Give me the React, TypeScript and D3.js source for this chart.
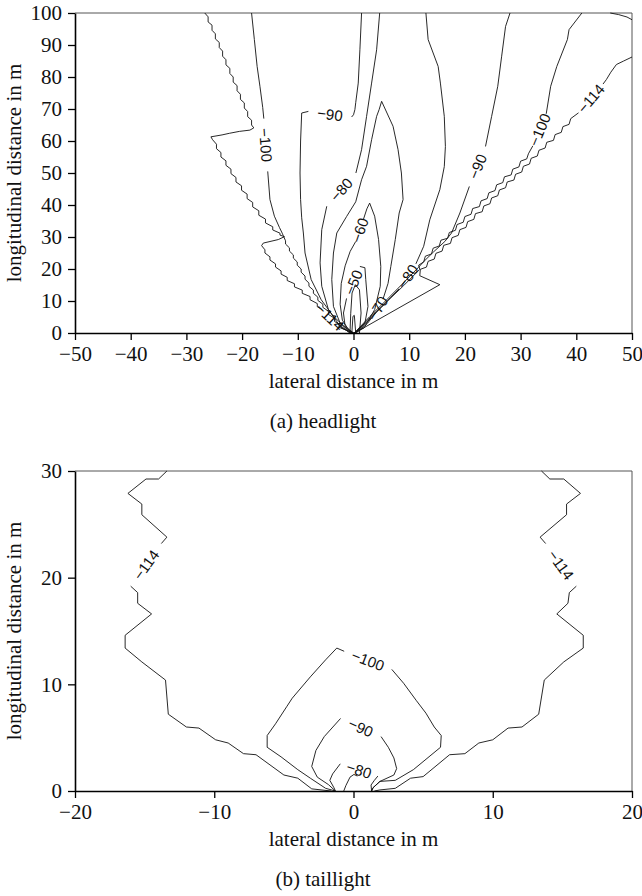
import React, { useEffect, useRef } from "react";
import * as d3 from "d3";

type Pt = [number, number];

// ---- (a) headlight: contour pieces as [lateral m, longitudinal m]
const head114L: Pt[] = [
  [-26.7, 100], [-26.1, 98.8], [-26.1, 97.2], [-25.4, 96.2], [-25.4, 94.6], [-24.8, 93.5], [-24.8, 91.9],
  [-24.1, 90.8], [-24.1, 89.2], [-23.5, 88.1], [-23.5, 86.5], [-22.9, 85.4], [-22.9, 83.8], [-22.2, 82.7],
  [-22.2, 81.1], [-21.6, 80.0], [-21.6, 78.4], [-20.9, 77.3], [-20.9, 75.7], [-20.3, 74.6], [-20.3, 73.0],
  [-19.6, 71.9], [-19.6, 70.3], [-19.0, 69.2], [-19.0, 67.6], [-18.3, 66.5], [-18.3, 65.0], [-17.9, 64.1],
  [-18.6, 63.4], [-20.5, 63.0], [-22.3, 62.4], [-23.6, 61.9], [-25.6, 61.3], [-25.3, 60.4],
  [-24.6, 59.0], [-24.6, 57.6], [-23.8, 56.4], [-23.8, 55.0], [-22.9, 53.8], [-22.9, 52.4], [-22.0, 51.2],
  [-22.0, 49.8], [-21.1, 48.6], [-21.1, 47.2], [-20.1, 46.0], [-20.1, 44.6], [-19.1, 43.4], [-19.1, 42.0],
  [-18.1, 40.8], [-18.1, 39.4], [-17.0, 38.2], [-17.0, 36.8], [-15.8, 35.6], [-15.8, 34.4], [-14.5, 33.2],
  [-14.5, 32.2], [-13.2, 31.2], [-13.2, 30.6], [-12.4, 30.1],
  [-13.5, 29.2], [-16.2, 28.1], [-16.5, 27.3],
  [-15.9, 26.0], [-15.9, 25.0], [-15.0, 23.8], [-15.0, 22.8], [-14.0, 21.6], [-14.0, 20.6], [-13.0, 19.4],
  [-13.0, 18.4], [-11.9, 17.4], [-11.9, 16.4], [-10.6, 15.4], [-10.6, 14.4], [-9.2, 13.4], [-9.2, 12.4],
  [-7.8, 11.4], [-7.8, 10.4], [-6.5, 9.2], [-6.5, 8.2], [-5.6, 7.3],
];
const head114Lb: Pt[] = [[-2.9, 2.9], [-2.6, 2.6], [-2.6, 1.8], [-1.2, 0.8], [0, 0]];

const head100La: Pt[] = [[-18.3, 100], [-17.8, 91.7], [-17.3, 83.3], [-16.8, 77.1], [-16.3, 70.5], [-16.1, 67.0]];
const head100Lb: Pt[] = [
  [-15.4, 50.5], [-15.0, 41.7], [-14.2, 36.5], [-13.3, 33.0], [-12.8, 31.2], [-12.6, 30.4], [-12.2, 28.8],
  [-12.2, 27.8], [-11.5, 26.6], [-11.5, 25.6], [-10.8, 24.4], [-10.8, 23.4], [-10.1, 22.2], [-10.1, 21.2],
  [-9.4, 20.0], [-9.4, 19.0], [-8.7, 17.8], [-8.7, 16.8], [-8.0, 15.6], [-8.0, 14.6], [-7.2, 13.4],
  [-7.2, 12.4], [-6.4, 11.2], [-6.4, 10.2], [-5.5, 9.0], [-5.5, 8.0], [-4.5, 6.8], [-4.5, 5.8],
  [-3.4, 4.6], [-3.4, 3.6], [-2.2, 2.4], [-2.2, 1.6], [-1.0, 0.6], [0, 0],
];

const head90La: Pt[] = [[1.45, 100], [1.15, 88.5], [0.85, 78.1], [0.4, 72.0], [0.25, 69.8], [0.0, 68.2], [-0.34, 67.5]];
const head90Lb: Pt[] = [
  [-8.1, 69.25], [-9.3, 68.75], [-9.5, 60], [-9.6, 50], [-9.5, 41.7], [-9.3, 36], [-9.0, 31.25],
  [-8.7, 25], [-7.6, 16.7], [-5.8, 10.4], [-3.6, 5.2], [-1.0, 1.0], [0, 0],
];

const head80La: Pt[] = [[4.7, 100], [4.15, 88.5], [3.25, 78.1], [2.35, 67.7], [1.45, 57.3], [0.43, 50.0]];
const head80Lb: Pt[] = [[-4.8, 39.6], [-5.7, 32.3], [-6.0, 21.9], [-5.7, 14.6], [-4.5, 7.3], [-2.4, 2.1], [-0.3, 0]];

const head70a: Pt[] = [
  [0, 0], [-0.9, 0.2], [-2.4, 3.1], [-3.6, 8.3], [-3.9, 16.7], [-3.6, 25], [-3.0, 31.25], [-1.24, 36.4],
  [0.4, 41], [1.45, 47.9], [2.35, 52.1], [3.25, 60.4], [4.15, 67.7], [4.6, 69.8], [5.05, 72.4],
  [7.1, 64.6], [8.0, 57.3], [8.6, 50.0], [8.9, 41.7], [8.2, 37.5], [7.5, 29.2], [6.7, 20.8], [6.2, 15.5], [5.3, 10.6],
];
const head70b: Pt[] = [[3.3, 4.8], [2.5, 3.0], [0.6, 0.2], [0, 0]];

const head60a: Pt[] = [[0.2, 0], [1.9, 1.6], [3.8, 7.3], [4.8, 14.6], [4.9, 20.8], [4.5, 29.2], [3.8, 36.5], [2.9, 40.6], [2.4, 38.8], [1.8, 35.6]];
const head60b: Pt[] = [[0.4, 28.6], [-0.6, 25.5], [-1.5, 21.0], [-2.2, 15.5], [-2.4, 9.0], [-2.0, 4.0], [-0.8, 0.8], [0, 0]];

const head50a: Pt[] = [[0, 0], [-1.5, 2.1], [-1.8, 6.25], [-1.25, 10.8]];
const head50b: Pt[] = [[1.15, 20.8], [2.05, 20.4], [2.2, 16.7], [2.6, 8.3], [2.05, 3.1], [0.6, 0.5], [0, 0]];

const head40: Pt[] = [[-0.63, 0], [-0.5, 6.0], [-0.26, 12.5], [0.33, 15.1], [1.07, 13.5], [1.36, 6.25], [1.07, 0]];
const head30: Pt[] = [[-0.3, 0], [-0.1, 5.2], [0.15, 5.5], [0.4, 0]];

const head114Ra: Pt[] = [[50, 86.25], [48.5, 85.0], [47.2, 83.9], [46.2, 81.5], [45.4, 79.2], [44.8, 77.8]];
const head114Rb: Pt[] = [
  [40.4, 68.8], [39.0, 67.0], [38.7, 65.2], [37.6, 64.5], [37.3, 62.7], [36.2, 62.0], [35.9, 60.2],
  [34.7, 59.6], [34.4, 57.8], [33.3, 57.1], [33.0, 55.3], [31.9, 54.6], [31.6, 52.8], [30.5, 52.1],
  [30.2, 50.3], [29.1, 49.6], [28.8, 47.8], [27.6, 47.2], [27.3, 45.4], [26.2, 44.7], [25.9, 42.9],
  [24.8, 42.2], [24.5, 40.4], [23.4, 39.7], [23.1, 37.9], [21.9, 37.3], [21.6, 35.5], [20.5, 34.8],
  [20.2, 33.0], [19.1, 32.3], [18.8, 30.5], [17.7, 29.8], [17.4, 28.0], [16.2, 27.4], [15.9, 25.6],
  [14.8, 24.9], [14.5, 23.1], [13.4, 22.4], [13.1, 20.6], [12.0, 19.9], [11.9, 17.9], [15.5, 15.1], [0.2, 0],
];
const head114C: Pt[] = [[46.1, 100], [47.6, 99.5], [49.1, 98.75], [50, 97.9]];

const head100Ra: Pt[] = [[41.0, 100], [38.7, 94.8], [38.4, 91.7], [36.5, 83.3], [35.4, 77.1], [34.6, 68.5]];
const head100Rb: Pt[] = [
  [32.2, 58.5], [31.4, 56.0], [31.1, 54.4], [30.0, 53.7], [29.7, 51.9], [28.6, 51.2], [28.3, 49.4],
  [27.1, 48.8], [26.8, 47.0], [25.7, 46.3], [25.4, 44.5], [24.3, 43.8], [24.0, 42.0], [22.9, 41.3],
  [22.6, 39.5], [21.4, 38.9], [21.1, 37.1], [20.0, 36.4], [19.7, 34.6], [18.6, 33.9], [18.3, 32.1],
  [17.2, 31.4], [16.9, 29.6], [15.7, 29.0], [15.4, 27.2], [14.3, 26.5], [14.0, 24.7], [12.9, 24.0],
  [12.6, 22.2], [11.7, 21.2], [11.9, 19.9], [9.0, 14.8], [6.0, 9.8], [3.0, 4.9], [0.2, 0],
];

const head90Ra: Pt[] = [[28.1, 100], [27.3, 95.8], [26.6, 86.5], [25.9, 77.1], [24.8, 67.7], [23.7, 58.3]];
const head90Rb: Pt[] = [
  [20.8, 45.8], [19.1, 37.5], [17.6, 31.25], [16.4, 28.6], [14.4, 25.4], [12.6, 22.3], [11.6, 20.4],
  [8.7, 15.2], [5.8, 10.1], [2.9, 5.1], [0.2, 0.1],
];

const head80Ra: Pt[] = [
  [13.0, 100], [13.4, 91.7], [15.2, 83.3], [15.6, 78.1], [16.3, 67.7], [16.5, 58.3], [16.3, 52.0],
  [15.5, 44.8], [13.7, 35.4], [12.6, 27.1], [11.2, 21.6],
];
const head80Rb: Pt[] = [[8.2, 13.8], [6.6, 11.0], [5.0, 8.0], [3.2, 4.8], [1.2, 1.4], [0.2, 0.1]];

// ---- (b) taillight
const tail114La: Pt[] = [[-13.4, 30], [-14.0, 29.25], [-14.9, 29.25], [-16.2, 27.9], [-15.2, 26.9], [-15.2, 25.9], [-13.4, 23.8], [-13.8, 23.2]];
const tail114Lb: Pt[] = [
  [-16.0, 19.2], [-15.5, 18.6], [-15.5, 17.6], [-14.5, 16.6], [-16.4, 14.6], [-16.4, 13.4], [-15.2, 12.1],
  [-13.5, 10.4], [-13.3, 7.2], [-12.0, 6.0], [-11.1, 5.9], [-9.9, 4.8], [-9.0, 4.5], [-7.9, 3.5],
  [-7.0, 3.4], [-5.0, 1.5], [-4.0, 1.2], [-3.0, 0.2], [-1.6, 0],
];
const tail114Ra: Pt[] = [[13.5, 30], [14.1, 29.25], [15.1, 29.25], [16.3, 27.9], [15.3, 26.9], [15.3, 25.9], [13.4, 23.8], [13.8, 23.2]];
const tail114Rb: Pt[] = [
  [16.0, 19.2], [15.5, 18.6], [15.4, 17.6], [14.6, 16.6], [16.5, 14.6], [16.5, 13.4], [15.1, 12.1],
  [13.7, 10.4], [13.3, 7.2], [12.1, 6.0], [11.1, 5.9], [10.0, 4.8], [9.0, 4.5], [8.0, 3.5],
  [6.9, 3.4], [5.0, 1.35], [4.1, 1.2], [3.0, 0.25], [1.9, 0.1], [1.5, 0],
];
const tail100a: Pt[] = [
  [-1.3, 0], [-2.0, 0.25], [-3.1, 1.2], [-4.0, 2.0], [-5.2, 3.2], [-6.2, 4.1], [-6.2, 5.2], [-5.6, 6.3],
  [-4.8, 7.9], [-4.4, 8.7], [-3.1, 10.7], [-2.0, 12.3], [-1.2, 13.4], [-0.67, 13.1],
];
const tail100b: Pt[] = [
  [2.75, 11.4], [3.6, 10.1], [4.5, 8.5], [5.2, 7.3], [5.8, 6.0], [6.3, 5.2], [6.25, 4.1], [4.3, 2.0],
  [3.0, 1.0], [1.9, 0.9], [1.4, 0.3], [1.3, 0],
];
const tail90a: Pt[] = [[-1.3, 0], [-1.8, 0.6], [-2.6, 1.3], [-3.0, 2.3], [-2.7, 3.8], [-2.1, 5.1], [-0.93, 6.8]];
const tail90b: Pt[] = [[1.98, 5.1], [2.5, 4.1], [2.9, 3.1], [3.1, 2.1], [2.9, 1.5], [1.9, 0.9], [1.4, 0.3], [1.3, 0]];
const tail80a: Pt[] = [[-1.3, 0], [-1.4, 0.3], [-1.7, 1.0], [-1.5, 1.6], [-0.95, 2.55]];
const tail80b: Pt[] = [[1.75, 1.4], [1.5, 1.0], [1.26, 0.56], [1.3, 0]];
const tail70: Pt[] = [[-0.7, 0], [-0.55, 0.5], [-0.25, 1.3], [0.03, 1.55], [0.28, 1.4]];

const headX = [-50, -40, -30, -20, -10, 0, 10, 20, 30, 40, 50];
const headY = [0, 10, 20, 30, 40, 50, 60, 70, 80, 90, 100];
const tailX = [-20, -10, 0, 10, 20];
const tailY = [0, 10, 20, 30];

const headLines: Pt[][] = [
  head114L, head114Lb, head100La, head100Lb, head90La, head90Lb, head80La, head80Lb,
  head70a, head70b, head60a, head60b, head50a, head50b, head40, head30,
  head114Ra, head114Rb, head114C, head100Ra, head100Rb, head90Ra, head90Rb, head80Ra, head80Rb,
];
const headLabels = [
  { text: "−114", a: head114L, b: head114Lb },
  { text: "−100", a: head100La, b: head100Lb },
  { text: "−90", a: head90La, b: head90Lb },
  { text: "−80", a: head80La, b: head80Lb },
  { text: "−70", a: head70a, b: head70b },
  { text: "−60", a: head60a, b: head60b },
  { text: "−50", a: head50a, b: head50b },
  { text: "−114", a: head114Ra, b: head114Rb },
  { text: "−100", a: head100Ra, b: head100Rb },
  { text: "−90", a: head90Ra, b: head90Rb },
  { text: "−80", a: head80Ra, b: head80Rb },
];

const tailLines: Pt[][] = [tail114La, tail114Lb, tail114Ra, tail114Rb, tail100a, tail100b, tail90a, tail90b, tail80a, tail80b, tail70];
const tailLabels = [
  { text: "−114", a: tail114La, b: tail114Lb },
  { text: "−114", a: tail114Ra, b: tail114Rb },
  { text: "−100", a: tail100a, b: tail100b },
  { text: "−90", a: tail90a, b: tail90b },
  { text: "−80", a: tail80a, b: tail80b },
];

const SERIF = "'Liberation Serif', 'Times New Roman', Times, serif";
const SANS = "'Liberation Sans', Arial, Helvetica, sans-serif";

type Label = { text: string; a: Pt[]; b: Pt[] };

function Panel(props: {
  x: d3.ScaleLinear<number, number>;
  y: d3.ScaleLinear<number, number>;
  lines: Pt[][];
  labels: Label[];
  xTicks: number[];
  yTicks: number[];
  caption: string;
}) {
  const { x, y, lines, labels, xTicks, yTicks, caption } = props;
  const gx = useRef<SVGGElement>(null);
  const gy = useRef<SVGGElement>(null);
  const [x0, x1] = x.range();
  const [y0, y1] = y.range();

  useEffect(() => {
    const sx = d3.select(gx.current!);
    sx.call(d3.axisBottom(x).tickValues(xTicks).tickSize(7).tickPadding(6).tickSizeOuter(0));
    const sy = d3.select(gy.current!);
    sy.call(d3.axisLeft(y).tickValues(yTicks).tickSize(7).tickPadding(6).tickSizeOuter(0));
    [sx, sy].forEach((s) => {
      s.attr("font-family", SERIF).attr("font-size", 21);
      s.select(".domain").attr("stroke", "#000").attr("stroke-width", 1.6);
      s.selectAll(".tick line").attr("stroke", "#000").attr("stroke-width", 1.3);
      s.selectAll(".tick text").attr("fill", "#111");
    });
  }, []);

  const line = d3.line<Pt>().x((d) => x(d[0])).y((d) => y(d[1]));
  const cx = (x0 + x1) / 2;

  return (
    <g>
      <line x1={x0} x2={x1} y1={y1} y2={y1} stroke="#555" strokeWidth={1} />
      <line x1={x1} x2={x1} y1={y1} y2={y0} stroke="#555" strokeWidth={1} />
      {lines.map((pts, i) => (
        <path key={i} d={line(pts) || ""} fill="none" stroke="#111" strokeWidth={0.9} strokeLinejoin="round" />
      ))}
      {labels.map((l, i) => {
        const p = l.a[l.a.length - 1];
        const q = l.b[0];
        const px = x(p[0]), py = y(p[1]), qx = x(q[0]), qy = y(q[1]);
        let ang = (Math.atan2(qy - py, qx - px) * 180) / Math.PI;
        if (ang > 90) ang -= 180;
        if (ang <= -90) ang += 180;
        return (
          <text
            key={i}
            transform={`translate(${(px + qx) / 2},${(py + qy) / 2}) rotate(${ang})`}
            textAnchor="middle"
            dominantBaseline="central"
            fontFamily={SANS}
            fontSize={15}
            fill="#111"
          >
            {l.text}
          </text>
        );
      })}
      <g ref={gx} transform={`translate(0,${y0})`} />
      <g ref={gy} transform={`translate(${x0},0)`} />
      <text
        transform={`translate(21,${(y0 + y1) / 2}) rotate(-90)`}
        textAnchor="middle"
        fontFamily={SERIF}
        fontSize={21}
        fill="#111"
      >
        longitudinal distance in m
      </text>
      <text x={cx} y={y0 + 55} textAnchor="middle" fontFamily={SERIF} fontSize={21} fill="#111">
        lateral distance in m
      </text>
      <text x={323} y={y0 + 95} textAnchor="middle" fontFamily={SERIF} fontSize={21} fill="#111">
        {caption}
      </text>
    </g>
  );
}

export default function App() {
  const xHead = d3.scaleLinear().domain([-50, 50]).range([75, 632]);
  const yHead = d3.scaleLinear().domain([0, 100]).range([333, 13]);
  const xTail = d3.scaleLinear().domain([-20, 20]).range([75, 632]);
  const yTail = d3.scaleLinear().domain([0, 30]).range([791, 471]);

  return (
    <svg
      width={642}
      height={896}
      style={{ position: "absolute", left: 0, top: 0, background: "#fff", display: "block" }}
    >
      <Panel x={xHead} y={yHead} lines={headLines} labels={headLabels} xTicks={headX} yTicks={headY} caption="(a) headlight" />
      <Panel x={xTail} y={yTail} lines={tailLines} labels={tailLabels} xTicks={tailX} yTicks={tailY} caption="(b) taillight" />
    </svg>
  );
}
